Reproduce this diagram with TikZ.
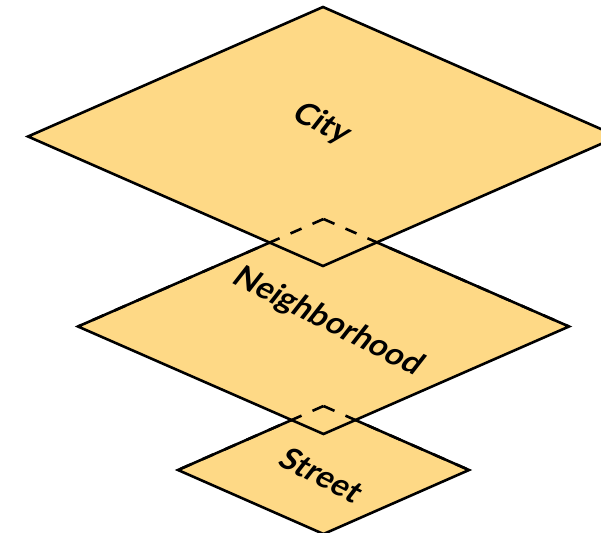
\documentclass[tikz,border=0pt]{standalone}
\usepackage{fontspec}
\setmainfont{Lato}
\usetikzlibrary{positioning}
\definecolor{layerfill}{RGB}{254,217,134}
\tikzset{x=1pt,y=-1pt,
    layer/.style={
        draw=black,
        fill=layerfill,
        line width=2.6pt,
        line join=miter},
    hidden/.style={
        draw=black,
        line width=2.6pt,
        dash pattern=on 12pt off 12pt},
    onplane/.style={
        cm={0.891,-0.454,0.616,0.788,(0,0)},
        inner sep=0pt,
        font=\fontsize{32}{32}\selectfont\bfseries}}

\begin{document}
\begin{tikzpicture}
        \clip (0,0) rectangle (601,532);

        % street (bottom)
        \draw[layer] (323.5,406) -- (469,470) -- (323.5,534) -- (178,470) -- cycle;
        % neighborhood
        \draw[layer] (323.5,219) -- (569,326.5) -- (323.5,434) -- (78,326.5) -- cycle;
        % city (top)
        \draw[layer] (323,7) -- (618,136.5) -- (323,266) -- (28,136.5) -- cycle;

        % hidden edges
        \draw[hidden] (323.5,219) -- (78,326.5);
        \draw[hidden] (323.5,219) -- (569,326.5);
        \draw[hidden] (323.5,406) -- (178,470);
        \draw[hidden] (323.5,406) -- (469,470);

        \node[onplane] (city) at (322,124) {City};
        \node[onplane] (hood) at (328,322) {Neighborhood};
        \node[onplane] (street) at (322,475) {Street};
    \end{tikzpicture}
\end{document}
